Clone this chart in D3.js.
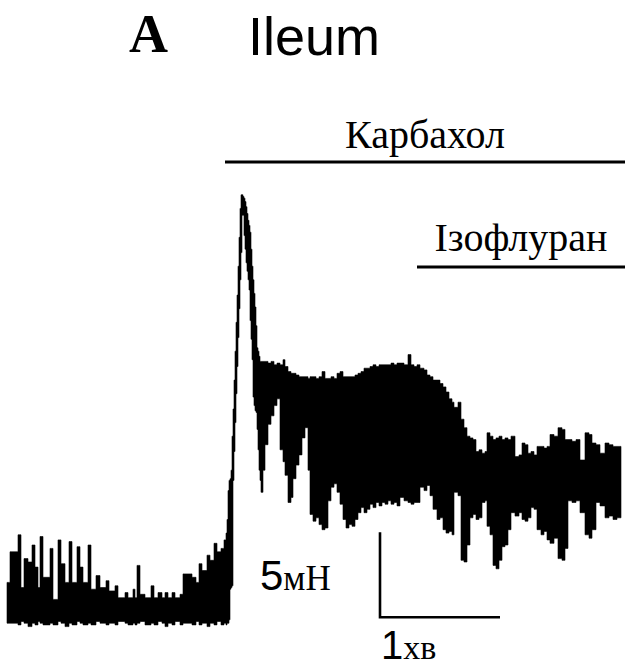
<!DOCTYPE html>
<html>
<head>
<meta charset="utf-8">
<script src="https://cdn.jsdelivr.net/npm/d3@7"></script>
<style>
  html, body { margin: 0; padding: 0; background: #fff; }
  svg { display: block; }
</style>
</head>
<body>
<script>
// Isometric force recording of ileum strip: carbachol, then isoflurane.
// The dense contraction trace is stored as an envelope (upper / lower force)
// sampled at irregular times; each sample holds until the next one.

// time of each envelope sample, s
const sampleTime = [
  0, 1.5, 5.5, 7, 8.5, 10.5, 12.5, 14, 15.5, 16.5, 18, 21.5, 23, 25.5, 27, 29, 31, 32.5, 35, 36.5,
  38, 40.5, 42, 44.5, 46.5, 49.5, 51, 54, 55.5, 59, 60.5, 63, 64, 65, 66.5, 69, 72, 73.5, 75.5, 77.5,
  79, 80.5, 82.5, 84, 86.5, 88, 92.5, 94.5, 96, 97.5, 100, 101.5, 103.5, 105, 107, 108.5, 109.5, 110, 110.5, 111,
  111.5, 112, 112.5, 113, 113.5, 114, 114.5, 115, 115.5, 116, 116.5, 117, 117.5, 118, 118.5, 119, 119.5, 120, 120.5, 121,
  121.5, 122, 122.5, 123, 123.5, 124, 124.5, 125, 125.5, 126, 126.5, 127, 128, 129, 130.5, 132, 133.5, 135, 136.5, 138,
  139, 140.5, 142, 143, 144.5, 146, 147.5, 149, 150.5, 151.5, 153, 154.5, 156, 157.5, 159, 160.5, 162, 163.5, 165, 166.5,
  168, 169.5, 171, 172.5, 174, 175.5, 177, 178.5, 180, 181.5, 183, 184.5, 186, 187.5, 189, 190.5, 192, 193.5, 195, 196.5,
  198.5, 200.5, 202, 203.5, 205, 206.5, 208.5, 210, 211.5, 213, 215, 216.5, 218, 219.5, 221, 222.5, 223.5, 225.5, 227, 228.5,
  230, 231.5, 233, 234.5, 236, 237.5, 239, 240, 241.5, 243, 244.5, 246, 247.5, 249, 250.5, 252, 254, 256, 257.5, 259,
  260.5, 262, 263.5, 265, 267, 268.5, 270, 271.5, 273.5, 275.5, 277.5, 279, 280.5, 282.5, 284.5, 286.5, 289, 291, 292.5, 294.5,
  296.5, 299, 301, 303, 305, 307
];

// upper edge of the trace, mN
const forceHigh = [
  2.8, 4.6, 5.6, 2.5, 4.2, 4.0, 5.0, 3.7, 2.5, 5.5, 3.1, 4.8, 1.8, 5.3, 3.9, 2.8, 5.2, 2.8, 4.9, 3.7,
  2.8, 5.0, 2.4, 3.2, 2.5, 2.9, 2.3, 2.6, 1.9, 2.2, 1.9, 2.4, 1.9, 3.8, 2.1, 1.9, 2.6, 1.9, 2.2, 1.9,
  2.2, 1.9, 2.2, 1.9, 2.1, 3.3, 3.1, 2.8, 3.9, 3.5, 4.4, 4.1, 5.1, 4.6, 4.8, 5.3, 5.7, 6.5, 8.2, 8.8,
  8.9, 9.4, 11.4, 13.0, 14.7, 16.4, 18.1, 19.7, 21.4, 23.1, 24.8, 25.6, 25.6, 25.5, 25.4, 25.2, 24.9, 24.5, 24.1, 23.8,
  23.4, 22.4, 21.4, 20.6, 19.8, 19.0, 17.9, 16.6, 16.4, 16.1, 15.8, 15.8, 15.8, 15.8, 15.7, 15.8, 15.6, 15.7, 15.6, 15.9,
  15.5, 15.2, 15.1, 15.1, 15.0, 14.9, 14.9, 14.9, 14.8, 14.9, 14.9, 14.8, 14.9, 15.2, 14.8, 14.8, 14.9, 14.8, 15.1, 15.2,
  14.9, 14.9, 14.9, 14.9, 15.0, 15.1, 15.2, 15.4, 15.4, 15.5, 15.6, 15.5, 15.6, 15.6, 15.6, 15.6, 15.7, 15.6, 15.7, 15.7,
  15.6, 16.2, 15.6, 15.5, 15.6, 15.4, 15.3, 15.0, 14.9, 14.7, 14.7, 14.5, 14.3, 14.0, 13.6, 13.4, 13.1, 13.4, 12.4, 11.9,
  11.4, 11.3, 11.2, 10.5, 10.6, 10.4, 10.5, 11.6, 11.4, 11.2, 11.3, 11.4, 11.2, 11.3, 11.2, 11.4, 10.2, 10.3, 11.0, 10.9,
  10.4, 10.5, 10.3, 10.8, 10.8, 10.7, 10.8, 11.5, 11.4, 11.9, 11.8, 11.2, 11.2, 11.1, 11.2, 10.0, 11.6, 11.5, 11.0, 10.9,
  10.4, 11.0, 10.9, 10.8, 10.8, 10.8
];

// lower edge of the trace, mN
const forceLow = [
  0.4, 0.4, 0.3, 0.5, 0.4, 0.2, 0.4, 0.3, 0.5, 0.4, 0.3, 0.4, 0.3, 0.5, 0.4, 0.2, 0.4, 0.3, 0.5, 0.4,
  0.3, 0.4, 0.3, 0.5, 0.4, 0.3, 0.4, 0.3, 0.5, 0.4, 0.3, 0.4, 0.3, 0.4, 0.5, 0.3, 0.4, 0.3, 0.5, 0.4,
  0.2, 0.4, 0.3, 0.5, 0.3, 0.4, 0.3, 0.5, 0.3, 0.4, 0.2, 0.4, 0.3, 0.5, 0.3, 0.4, 0.3, 0.4, 0.4, 0.6,
  2.4, 2.5, 2.6, 8.8, 10.5, 12.2, 13.9, 15.5, 17.2, 18.9, 20.6, 22.2, 24.4, 24.4, 23.2, 22.4, 21.6, 21.1, 20.6, 20.0,
  18.2, 17.1, 15.9, 13.7, 13.2, 12.9, 12.8, 11.8, 10.6, 9.4, 8.8, 8.1, 9.4, 10.9, 12.1, 12.6, 13.2, 13.6, 10.6, 9.9,
  9.1, 7.5, 7.8, 8.9, 9.7, 10.3, 11.3, 11.9, 9.4, 6.8, 6.4, 6.6, 6.2, 5.9, 6.0, 7.6, 8.4, 8.6, 8.1, 7.4,
  6.5, 6.0, 6.2, 6.1, 6.5, 6.9, 7.2, 6.9, 7.1, 7.4, 7.2, 7.5, 7.3, 7.5, 7.4, 7.6, 7.4, 7.5, 7.3, 7.8,
  7.6, 7.5, 7.4, 7.5, 7.5, 8.4, 8.2, 8.5, 7.9, 7.1, 6.5, 6.6, 5.9, 5.7, 5.8, 5.6, 8.1, 7.9, 4.1, 4.0,
  5.0, 6.6, 6.8, 6.5, 6.6, 7.5, 7.6, 6.1, 5.6, 3.8, 3.6, 4.1, 4.9, 5.0, 5.9, 6.9, 6.7, 6.9, 6.5, 6.4,
  6.6, 7.2, 7.1, 5.9, 5.6, 5.8, 5.3, 5.1, 5.4, 4.2, 4.1, 4.8, 7.6, 7.5, 7.6, 6.9, 5.6, 5.4, 5.9, 7.5,
  7.3, 6.6, 6.7, 6.5, 6.6, 6.6
];

// drug application bars: name, start and end time (s)
const drugNames = ["Карбахол", "Ізофлуран"];
const drugStart = [109, 205];
const drugEnd = [309, 309];

// calibration bars
const scaleForce = 5;      // mN
const scaleForceUnit = "мН";
const scaleTime = 60;      // s
const scaleTimeValue = "1";
const scaleTimeUnit = "хв";
const scaleOrigin = [186.5, 0.75]; // s, mN

const W = 625, H = 668;
const svg = d3.select("body").append("svg").attr("width", W).attr("height", H);

const x = d3.scaleLinear().domain([0, 309]).range([7, 625]);
const y = d3.scaleLinear().domain([0, 26]).range([630, 188]);

const trace = sampleTime.map((t, i) => ({ t, hi: forceHigh[i], lo: forceLow[i] }));

const area = d3.area()
  .x(d => x(d.t))
  .y0(d => y(d.lo))
  .y1(d => y(d.hi))
  .curve(d3.curveStepAfter);

svg.append("path")
  .datum(trace)
  .attr("d", area)
  .attr("fill", "#000")
  .attr("stroke", "#000")
  .attr("stroke-width", 0.6);

// panel title
svg.append("text")
  .attr("x", 129).attr("y", 52)
  .attr("font-family", "Liberation Serif, Times New Roman, serif")
  .attr("font-weight", "bold")
  .attr("font-size", 54)
  .attr("fill", "#000")
  .text("A");

svg.append("text")
  .attr("x", 248).attr("y", 55)
  .attr("font-family", "Liberation Sans, Arial, sans-serif")
  .attr("font-size", 54)
  .attr("fill", "#000")
  .text("Ileum");

// drug bars with labels
const barY = [162, 267];
const labelGap = [14, 16];
const drugs = drugNames.map((name, i) => ({ name, start: drugStart[i], end: drugEnd[i], yb: barY[i], gap: labelGap[i] }));

const dg = svg.selectAll("g.drug").data(drugs).join("g").attr("class", "drug");
dg.append("line")
  .attr("x1", d => x(d.start)).attr("x2", d => x(d.end))
  .attr("y1", d => d.yb).attr("y2", d => d.yb)
  .attr("stroke", "#000").attr("stroke-width", 3.2);
dg.append("text")
  .attr("x", d => (x(d.start) + Math.min(x(d.end), W)) / 2)
  .attr("y", d => d.yb - d.gap)
  .attr("text-anchor", "middle")
  .attr("font-family", "Liberation Serif, Times New Roman, serif")
  .attr("font-size", 40)
  .attr("fill", "#000")
  .text(d => d.name);

// calibration: 5 mN vertical, 1 min horizontal
const x0 = x(scaleOrigin[0]), y0 = y(scaleOrigin[1]);
const x1 = x(scaleOrigin[0] + scaleTime), y1 = y(scaleOrigin[1] + scaleForce);
svg.append("path")
  .attr("d", `M${x0},${y1}L${x0},${y0}L${x1},${y0}`)
  .attr("fill", "none")
  .attr("stroke", "#000")
  .attr("stroke-width", 2.6);

const fLabel = svg.append("text")
  .attr("x", x0 - 120).attr("y", y0 - 27)
  .attr("fill", "#000");
fLabel.append("tspan")
  .attr("font-family", "Liberation Sans, Arial, sans-serif")
  .attr("font-size", 42)
  .text(String(scaleForce));
fLabel.append("tspan")
  .attr("font-family", "Liberation Serif, Times New Roman, serif")
  .attr("font-size", 35)
  .text(scaleForceUnit);

const tLabel = svg.append("text")
  .attr("x", x0 + 1).attr("y", y0 + 42)
  .attr("fill", "#000");
tLabel.append("tspan")
  .attr("font-family", "Liberation Sans, Arial, sans-serif")
  .attr("font-size", 40)
  .text(scaleTimeValue);
tLabel.append("tspan")
  .attr("font-family", "Liberation Serif, Times New Roman, serif")
  .attr("font-size", 34)
  .text(scaleTimeUnit);
</script>
</body>
</html>
